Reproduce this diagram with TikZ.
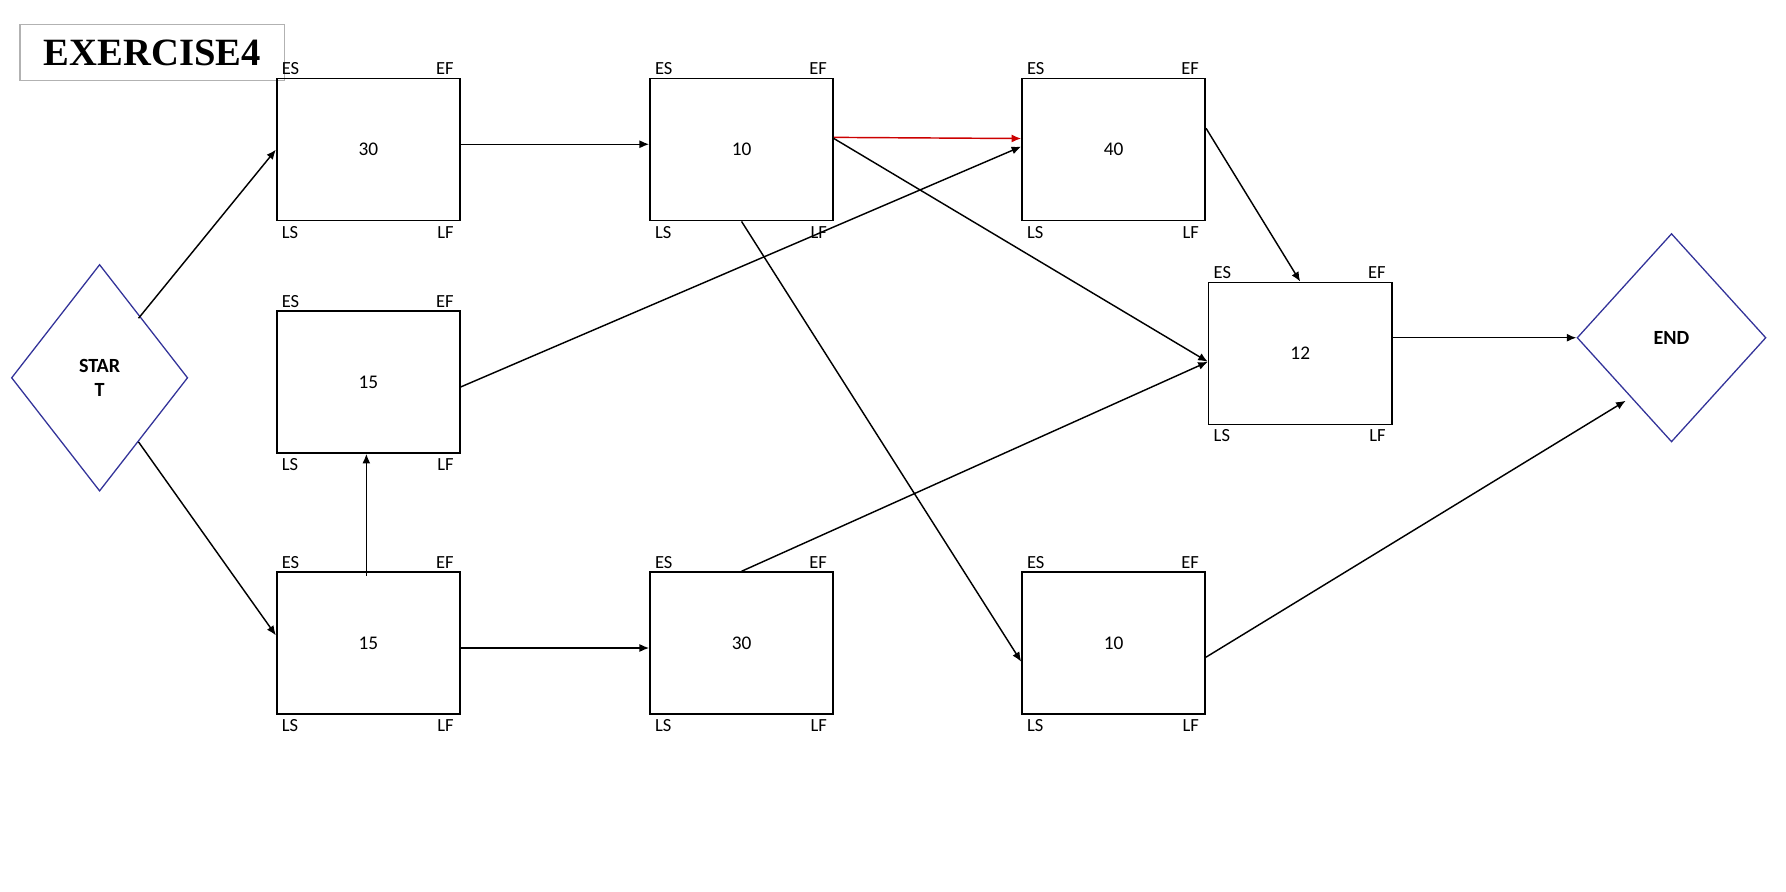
\documentclass[tikz,border=0pt]{standalone}
\usepackage{fontspec}
\setmainfont{Carlito}
\newfontfamily\titlefont{Liberation Serif}
\usetikzlibrary{shapes.geometric,arrows.meta}
\begin{document}
\begin{tikzpicture}[x=0.05cm,y=-0.05cm,
 act/.style={draw,line width=2pt,minimum width=8.0cm,minimum height=6.2cm,inner sep=0,font=\fontsize{24}{28}\selectfont},
 lab/.style={font=\fontsize{23}{26}\selectfont,inner sep=0},
 dia/.style={draw=blue!50!black!80,line width=1.6pt,diamond,inner sep=0,font=\bfseries\fontsize{25}{30}\selectfont,align=center},
 arr/.style={line width=1.8pt,-{Latex[length=12pt,width=10pt]}}]
\useasboundingbox (0,0) rectangle (1560,779);
\node[draw=black!30,line width=1.6pt,minimum width=11.55cm,minimum height=2.45cm,inner sep=0,anchor=north west,font=\titlefont\bfseries\fontsize{48}{52}\selectfont] (title) at (17,21) {EXERCISE4};
\newcommand\act[4]{%
 \node[act,anchor=north west] (#1) at (#2,#3) {#4};
 \node[lab,anchor=south west] at ([xshift=0.25cm,yshift=0.12cm]#1.north west) {ES};
 \node[lab,anchor=south east] at ([xshift=-0.3cm,yshift=0.12cm]#1.north east) {EF};
 \node[lab,anchor=north west] at ([xshift=0.25cm,yshift=-0.2cm]#1.south west) {LS};
 \node[lab,anchor=north east] at ([xshift=-0.3cm,yshift=-0.2cm]#1.south east) {LF};}
\act{a}{241}{68}{30}
\act{b}{567}{68}{10}
\act{c}{892}{68}{40}
\act{d}{241}{271}{15}
\act{e}{241}{499}{15}
\act{f}{567}{499}{30}
\act{g}{892}{499}{10}
\act{h}{1055}{246}{12}
\node[dia,minimum width=7.7cm,minimum height=9.9cm] (start) at (87,330) {STAR\\T};
\node[dia,minimum width=8.25cm,minimum height=9.1cm] (end) at (1460,295) {END};
\coordinate (s1) at (121,278); \coordinate (s2) at (121,386);
\draw[arr] (s1) -- (a.west);
\draw[arr] (s2) -- (241,555);
\draw[arr] (a.east |- 0,126) -- (b.west |- 0,126);
\draw[arr,draw=red!80!black] (b.east |- 0,120) -- (c.west |- 0,121);
\draw[arr] (b.east |- 0,121) -- (h.west |- 0,316);
\draw[arr] (b.south) -- (g.west |- 0,578);
\draw[arr] (c.east |- 0,112) -- (h.north);
\draw[arr] (d.east |- 0,338) -- (c.west |- 0,128);
\draw[arr] (320,503) -- (d.south -| 320,0);
\draw[arr] (e.east |- 0,566) -- (f.west |- 0,566);
\draw[arr] (f.north) -- (h.west |- 0,316);
\draw[arr] (h.east |- 0,295) -- (end.west);
\draw[arr] (g.east |- 0,574) -- (1420,350);
\end{tikzpicture}
\end{document}
